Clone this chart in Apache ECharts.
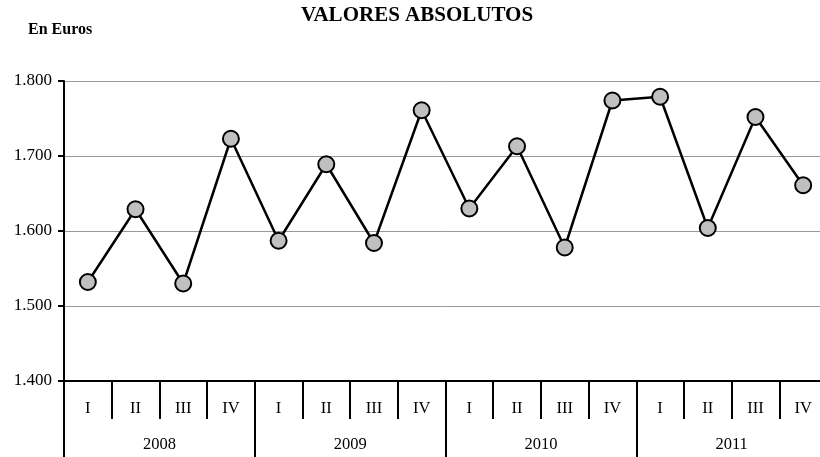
<!DOCTYPE html>
<html>
<head>
<meta charset="utf-8">
<script src="https://cdn.jsdelivr.net/npm/echarts@6/dist/echarts.min.js"></script>
<style>
  html, body { margin: 0; padding: 0; background: #fff; }
  #chart { width: 820px; height: 457px; }
</style>
</head>
<body>
<div id="chart"></div>
<script>
// trimestres y años
var quarters = ["I", "II", "III", "IV", "I", "II", "III", "IV", "I", "II", "III", "IV", "I", "II", "III", "IV"];
var years = ["2008", "2009", "2010", "2011"];
// valores absolutos en euros
var values = [1532, 1629, 1530, 1723, 1587, 1689, 1584, 1761, 1630, 1713, 1578, 1774, 1779, 1604, 1752, 1661];
var yMin = 1400;
var yMax = 1800;
var yStep = 100;

var serif = "'Liberation Serif', 'Times New Roman', serif";

var myChart = echarts.init(document.getElementById("chart"));
myChart.setOption({
  animation: false,
  title: [
    {
      text: "VALORES ABSOLUTOS",
      left: 301,
      top: 5,
      padding: 0,
      textStyle: { fontFamily: serif, fontSize: 21, fontWeight: "bold", color: "#000" }
    },
    {
      text: "En Euros",
      left: 28,
      top: 22,
      padding: 0,
      textStyle: { fontFamily: serif, fontSize: 16, fontWeight: "bold", color: "#000" }
    }
  ],
  // el gráfico original está recortado por la derecha
  grid: { left: 64, top: 81, width: 763, height: 300, outerBoundsMode: "none", containLabel: false },
  xAxis: [
    {
      type: "category",
      data: quarters,
      position: "bottom",
      axisLine: { lineStyle: { color: "#000", width: 2 } },
      axisTick: { show: true, interval: 0, length: 38, lineStyle: { color: "#000", width: 2 } },
      axisLabel: { interval: 0, margin: 19, fontFamily: serif, fontSize: 16.5, color: "#000" },
      splitLine: { show: false }
    },
    {
      type: "category",
      data: years,
      position: "bottom",
      axisLine: { show: false },
      axisTick: { show: true, interval: 0, length: 76, lineStyle: { color: "#000", width: 2 } },
      axisLabel: { interval: 0, margin: 55, fontFamily: serif, fontSize: 16.5, color: "#000" },
      splitLine: { show: false }
    }
  ],
  yAxis: {
    type: "value",
    min: yMin,
    max: yMax,
    interval: yStep,
    axisLine: { show: true, lineStyle: { color: "#000", width: 2 } },
    axisTick: { show: true, length: 6, lineStyle: { color: "#000", width: 2 } },
    axisLabel: {
      margin: 12,
      fontFamily: serif,
      fontSize: 17,
      color: "#000",
      formatter: function (v) {
        return (v / 1000).toFixed(3);
      }
    },
    splitLine: { lineStyle: { color: "#999", width: 1 } }
  },
  series: [
    {
      name: "Valores absolutos",
      type: "line",
      xAxisIndex: 0,
      data: values,
      symbol: "circle",
      symbolSize: 16,
      lineStyle: { color: "#000", width: 2.5 },
      itemStyle: { color: "#c0c0c0", borderColor: "#000", borderWidth: 2 },
      z: 3
    }
  ]
});
</script>
</body>
</html>
